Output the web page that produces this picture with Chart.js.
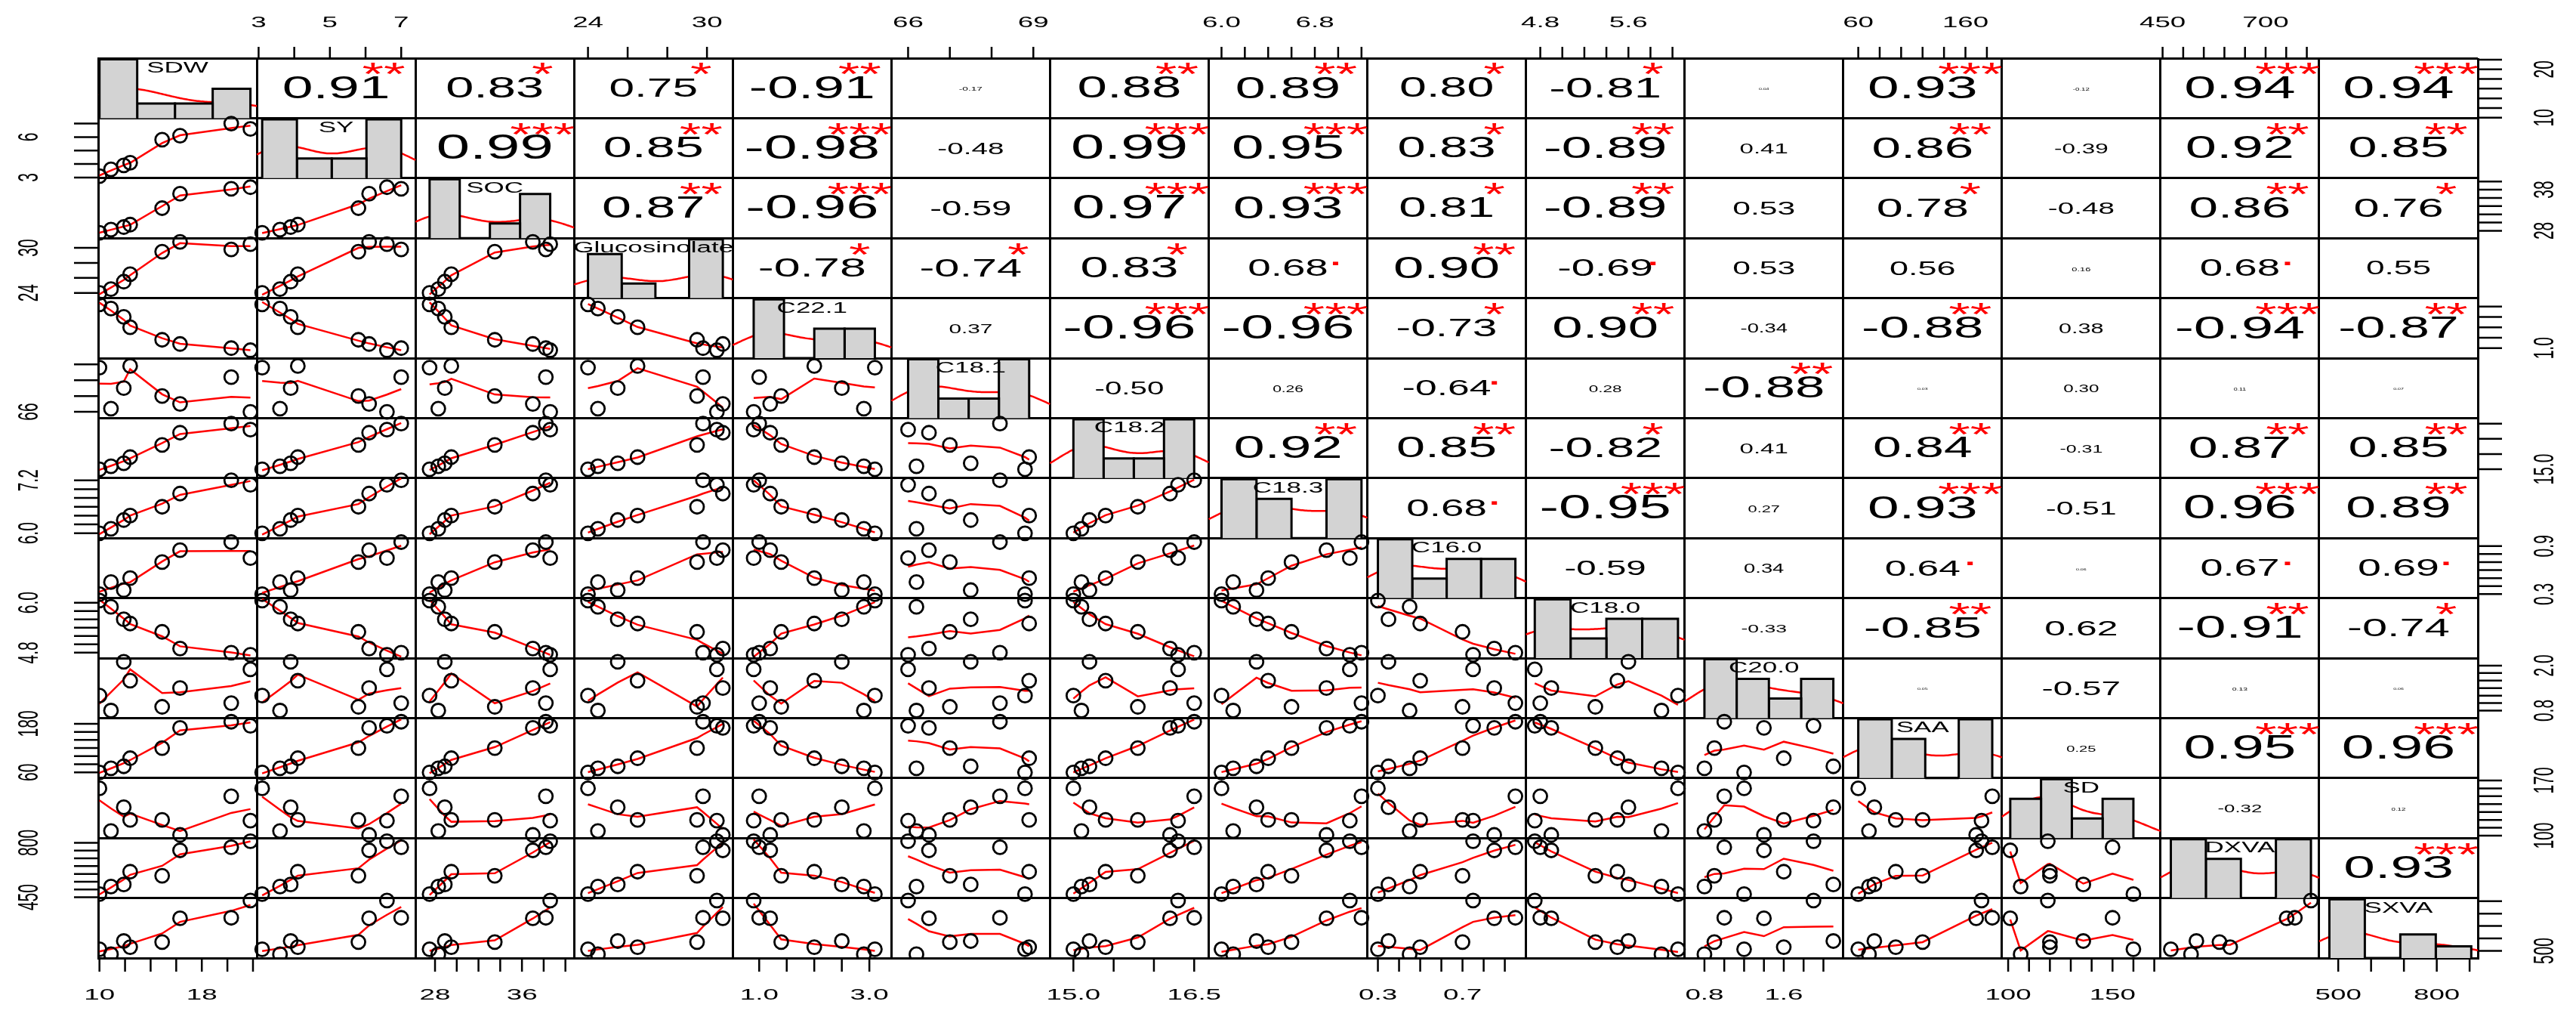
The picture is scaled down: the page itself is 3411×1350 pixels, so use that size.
<!DOCTYPE html>
<html><head><meta charset="utf-8">
<script src="https://cdn.jsdelivr.net/npm/chart.js@4"></script>
<style>html,body{margin:0;padding:0;background:#fff}#wrap{width:3411px;height:1350px}</style>
</head><body><div id="wrap"><canvas id="c" width="3411" height="1350"></canvas></div>
<script>
// ---- data ----
const varNames = ['SDW','SY','SOC','Glucosinolate','C22.1','C18.1','C18.2','C18.3','C16.0','C18.0','C20.0','SAA','SD','DXVA','SXVA'];
const SDW   = [10.0, 10.9, 11.9, 12.4, 14.9, 16.3, 20.3, 21.8];
const SY    = [3.1, 3.6, 3.9, 4.1, 5.8, 6.1, 7.0, 6.6];
const SOC   = [27.5, 28.3, 28.9, 29.5, 33.5, 37.0, 38.2, 38.6];
const GLUC  = [24.0, 24.5, 25.5, 26.5, 29.5, 30.8, 29.8, 30.5];
const C221  = [3.1, 2.9, 2.5, 2.0, 1.4, 1.2, 1.0, 0.9];
const C181  = [68.8, 66.2, 67.5, 68.9, 67.0, 66.5, 68.2, 66.0];
const C182  = [15.0, 15.1, 15.2, 15.4, 15.8, 16.2, 16.5, 16.3];
const C183  = [6.0, 6.1, 6.3, 6.4, 6.6, 6.9, 7.2, 7.1];
const C160  = [0.3, 0.45, 0.35, 0.5, 0.7, 0.85, 0.95, 0.75];
const C180  = [6.05, 5.9, 5.6, 5.5, 5.3, 4.9, 4.8, 4.75];
const C200  = [1.2, 0.8, 2.1, 1.6, 0.9, 1.4, 1.0, 1.9];
const SAA   = [60, 70, 75, 95, 120, 170, 185, 175];
const SD    = [160, 106, 136, 120, 120, 101, 150, 119];
const DXVA  = [470, 519, 532, 614, 588, 751, 771, 810];
const SXVA  = [513, 473, 579, 530, 571, 762, 766, 905];
const allData = [SDW,SY,SOC,GLUC,C221,C181,C182,C183,C160,C180,C200,SAA,SD,DXVA,SXVA];

// axis limits per variable
const axisLo = [9.9, 2.95, 26.2, 23.3, 0.52, 65.6, 14.71, 5.89, 0.25, 4.67, 0.6, 46, 97, 445, 442];
const axisHi = [22.3, 7.4, 40.8, 31.3, 3.4, 69.4, 16.68, 7.25, 1.0, 6.11, 2.2, 194, 173, 830, 925];

// tick positions and tick labels
const tickVals = [
 [10,12,14,16,18,20,22],[3,4,5,6,7],[28,30,32,34,36,38,40],[24,26,28,30],[1.0,1.5,2.0,2.5,3.0],
 [66,67,68,69],[15.0,15.5,16.0,16.5],[6.0,6.2,6.4,6.6,6.8,7.0,7.2],[0.3,0.4,0.5,0.6,0.7,0.8,0.9],
 [4.8,5.0,5.2,5.4,5.6,5.8,6.0],[0.8,1.0,1.2,1.4,1.6,1.8,2.0],[60,80,100,120,140,160,180],
 [100,110,120,130,140,150,160,170],[450,500,550,600,650,700,750,800],[500,600,700,800,900]];
const labelsTopBottom = [['10','18'],['3','5','7'],['28','36'],['24','30'],['1.0','3.0'],['66','69'],['15.0','16.5'],
 ['6.0','6.8'],['0.3','0.7'],['4.8','5.6'],['0.8','1.6'],['60','160'],['100','150'],['450','700'],['500','800']];
const labelsLeftRight = [['10','20'],['3','6'],['28','38'],['24','30'],['1.0'],['66'],['15.0'],
 ['6.0','7.2'],['0.3','0.9'],['4.8','6.0'],['0.8','2.0'],['60','180'],['100','170'],['450','800'],['500']];

// correlations (upper triangle, row by row) and significance marks
const rSDW  = [0.91,0.83,0.75,-0.91,-0.17,0.88,0.89,0.80,-0.81,0.04,0.93,-0.12,0.94,0.94];
const rSY   = [0.99,0.85,-0.98,-0.48,0.99,0.95,0.83,-0.89,0.41,0.86,-0.39,0.92,0.85];
const rSOC  = [0.87,-0.96,-0.59,0.97,0.93,0.81,-0.89,0.53,0.78,-0.48,0.86,0.76];
const rGLUC = [-0.78,-0.74,0.83,0.68,0.90,-0.69,0.53,0.56,0.16,0.68,0.55];
const rC221 = [0.37,-0.96,-0.96,-0.73,0.90,-0.34,-0.88,0.38,-0.94,-0.87];
const rC181 = [-0.50,0.26,-0.64,0.28,-0.88,0.03,0.30,0.11,0.07];
const rC182 = [0.92,0.85,-0.82,0.41,0.84,-0.31,0.87,0.85];
const rC183 = [0.68,-0.95,0.27,0.93,-0.51,0.96,0.89];
const rC160 = [-0.59,0.34,0.64,0.06,0.67,0.69];
const rC180 = [-0.33,-0.85,0.62,-0.91,-0.74];
const rC200 = [0.05,-0.57,0.13,0.06];
const rSAA  = [0.25,0.95,0.96];
const rSD   = [-0.32,0.12];
const rDXVA = [0.93];
const sSDW  = ['**','*','*','**','','**','**','*','*','','***','','***','***'];
const sSY   = ['***','**','***','','***','***','*','**','','**','','**','**'];
const sSOC  = ['**','***','','***','***','*','**','','*','','**','*'];
const sGLUC = ['*','*','*','.','**','.','','','','.',''];
const sC221 = ['','***','***','*','**','','**','','***','**'];
const sC181 = ['','','.','','**','','','',''];
const sC182 = ['**','**','*','','**','','**','**'];
const sC183 = ['.','***','','***','','***','**'];
const sC160 = ['','','.','','.','.'];
const sC180 = ['','**','','**','*'];
const sC200 = ['','','',''];
const sSAA  = ['','***','***'];
const sSD   = ['',''];
const sDXVA = ['***'];
const corrRows = [rSDW,rSY,rSOC,rGLUC,rC221,rC181,rC182,rC183,rC160,rC180,rC200,rSAA,rSD,rDXVA];
const starRows = [sSDW,sSY,sSOC,sGLUC,sC221,sC181,sC182,sC183,sC160,sC180,sC200,sSAA,sSD,sDXVA];

// ---- helpers ----
const N = varNames.length;
const nx = (k,v) => (v-axisLo[k])/(axisHi[k]-axisLo[k]);
function lowess(pts, f){
  const n=pts.length, q=Math.max(2,Math.round(f*n));
  return pts.map(p=>{
    const dist=pts.map(o=>Math.abs(o.x-p.x)).sort((a,b)=>a-b);
    const h=Math.max(dist[q-1],1e-9)*1.0001;
    let sw=0,sx=0,sy=0,sxx=0,sxy=0;
    pts.forEach(o=>{const u=Math.abs(o.x-p.x)/h; const w=u<1?Math.pow(1-u*u*u,3):0;
      sw+=w; sx+=w*o.x; sy+=w*o.y; sxx+=w*o.x*o.x; sxy+=w*o.x*o.y;});
    const mx=sx/sw, my=sy/sw, vx=sxx/sw-mx*mx;
    const b = vx>1e-12 ? (sxy/sw-mx*my)/vx : 0;
    return {x:p.x, y:my+b*(p.x-mx)};
  });
}

const datasets = [];
for (let i=0;i<N;i++){
  for (let j=0;j<i;j++){
    const pts = allData[j].map((v,s)=>({x:j+nx(j,v), y:i+1-nx(i,allData[i][s])}));
    datasets.push({type:'scatter',data:pts,showLine:false,pointRadius:9,pointBorderWidth:2.8,
      pointBorderColor:'#000',pointBackgroundColor:'rgba(0,0,0,0)'});
    const sorted = pts.slice().sort((a,b)=>a.x-b.x);
    datasets.push({type:'line',data:lowess(sorted,2/3),pointRadius:0,borderColor:'#ff0000',borderWidth:2.5,tension:0,fill:false});
  }
}
for (let k=0;k<N;k++){
  const d = allData[k];
  const mn = Math.min(...d), mx = Math.max(...d), nb = 4, w=(mx-mn)/nb;
  const counts = new Array(nb).fill(0);
  d.forEach(v=>{let b=Math.floor((v-mn)/w); if(b>=nb)b=nb-1; counts[b]++;});
  const dens = counts.map(c=>c/(d.length*w));
  const n=d.length, mean=d.reduce((a,b)=>a+b)/n;
  const sd=Math.sqrt(d.reduce((a,b)=>a+(b-mean)**2,0)/(n-1));
  const bw = 0.9*sd*Math.pow(n,-0.2);
  const kx=[], ky=[];
  for(let t=0;t<=60;t++){const x=axisLo[k]+(axisHi[k]-axisLo[k])*t/60; kx.push(x);
    ky.push(d.reduce((a,v)=>a+Math.exp(-0.5*((x-v)/bw)**2),0)/(n*bw*Math.sqrt(2*Math.PI)));}
  const top = Math.max(...dens, ...ky)*1.02;
  const bottom = k+1;
  counts.forEach((c,b)=>{
    const x0=k+nx(k,mn+b*w), x1=k+nx(k,mn+(b+1)*w), y1=k+1-dens[b]/top;
    datasets.push({type:'line',data:[{x:x0,y:bottom},{x:x0,y:y1},{x:x1,y:y1},{x:x1,y:bottom}],
      pointRadius:0,borderColor:'#000',borderWidth:3,backgroundColor:'#d3d3d3',fill:{value:bottom},tension:0});
  });
  datasets.push({type:'line',data:kx.map((x,t)=>({x:k+nx(k,x),y:k+1-ky[t]/top})),pointRadius:0,
    borderColor:'#ff0000',borderWidth:2.5,tension:0.3,fill:false});
}

// ---- text plugin ----
const SX = 1.75;
function txt(ctx,s,x,y,size,color,rot,align){
  ctx.save(); ctx.translate(x,y); ctx.scale(SX,1); if(rot) ctx.rotate(-Math.PI/2);
  ctx.font = size+'px "Liberation Sans", Arial, sans-serif'; ctx.fillStyle=color;
  ctx.textAlign=align||'center'; ctx.textBaseline='middle'; ctx.fillText(s,0,0); ctx.restore();
}
const panelText = {
  id:'panelText',
  afterDatasetsDraw(chart){
    const ctx=chart.ctx, xs=chart.scales.x, ys=chart.scales.y;
    const px=v=>xs.getPixelForValue(v), py=v=>ys.getPixelForValue(v);
    for(let i=0;i<N-1;i++){
      corrRows[i].forEach((r,c)=>{
        const j=i+1+c;
        const size = Math.max(4, 46*Math.abs(r));
        txt(ctx,r.toFixed(2),px(j+0.5),py(i+0.52),size,'#000');
        if(starRows[i][c]) txt(ctx,starRows[i][c],px(j+0.8),py(i+0.3),42,'#ff0000');
      });
    }
    varNames.forEach((nm,k)=>txt(ctx,nm,px(k+0.5),py(k+0.17),20,'#000'));
    ctx.strokeStyle='#000'; ctx.lineWidth=2.5;
    for(let k=0;k<N;k++){
      const even = k%2===1;
      tickVals[k].forEach(v=>{
        const fx=px(k+nx(k,v)), fy=py(k+1-nx(k,v));
        ctx.beginPath();
        if(even){ ctx.moveTo(fx,py(0)); ctx.lineTo(fx,py(0)-15); ctx.moveTo(px(0),fy); ctx.lineTo(px(0)-32,fy); }
        else { ctx.moveTo(fx,py(N)); ctx.lineTo(fx,py(N)+18); ctx.moveTo(px(N),fy); ctx.lineTo(px(N)+32,fy); }
        ctx.stroke();
      });
      labelsTopBottom[k].forEach(s=>{const fx=px(k+nx(k,parseFloat(s)));
        if(even) txt(ctx,s,fx,30,21,'#000'); else txt(ctx,s,fx,1317,21,'#000');});
      labelsLeftRight[k].forEach(s=>{const fy=py(k+1-nx(k,parseFloat(s)));
        if(even) txt(ctx,s,40,fy,21,'#000',true); else txt(ctx,s,3371,fy,21,'#000',true);});
    }
  }
};

new Chart(document.getElementById('c'),{
  type:'scatter',
  data:{datasets},
  options:{
    responsive:false, animation:false, events:[],
    layout:{padding:{left:130,right:130,top:77,bottom:82}},
    plugins:{legend:{display:false},tooltip:{enabled:false}},
    scales:{
      x:{type:'linear',min:0,max:15,ticks:{display:false,stepSize:1},
         grid:{color:'#000',lineWidth:3,drawTicks:false,tickLength:0},border:{color:'#000',width:3}},
      y:{type:'linear',min:0,max:15,reverse:true,ticks:{display:false,stepSize:1},
         grid:{color:'#000',lineWidth:3,drawTicks:false,tickLength:0},border:{color:'#000',width:3}}
    }
  },
  plugins:[panelText]
});
</script></body></html>
